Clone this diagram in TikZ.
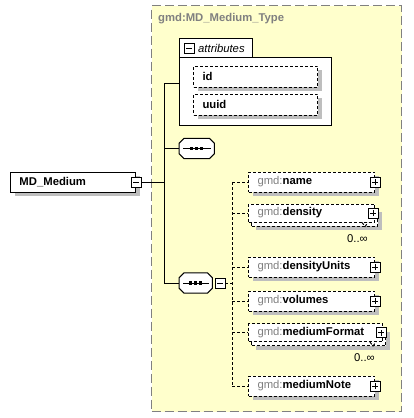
\documentclass[tikz,border=0pt]{standalone}
\usepackage{fontspec}
\setmainfont{Liberation Sans}
\usetikzlibrary{shadows,positioning}

\definecolor{typefill}{RGB}{255,255,204}
\definecolor{typeline}{RGB}{128,128,128}
\definecolor{shadegrey}{RGB}{190,190,190}

\newcommand{\gmdpre}{{\color{typeline}\mdseries gmd:}}

\tikzset{
  txt/.style={font=\fontsize{11.3}{13}\selectfont\bfseries},
  box/.style={rectangle, draw=black, fill=white, line width=1pt, inner sep=0pt, txt, anchor=west},
  dropshade/.style={drop shadow={shadow xshift=4pt, shadow yshift=-4pt, opacity=1, fill=shadegrey}},
  opt/.style={dash pattern=on 3pt off 2pt},
  elem/.style={box, opt, dropshade, minimum height=20pt, text width=108pt, inner xsep=9pt, align=left},
  manyelem/.style={box, opt, minimum height=18pt, text width=108pt, inner xsep=9pt, align=left,
    drop shadow={shadow xshift=7pt, shadow yshift=-8pt, opacity=1, fill=shadegrey},
    copy shadow={shadow xshift=3pt, shadow yshift=-4pt, draw=black, fill=white, opt, line width=1pt}},
  pmbox/.style={rectangle, draw=black, fill=white, solid, line width=0.8pt, minimum size=10pt, inner sep=0pt},
  plusbox/.style={pmbox, path picture={
      \draw[solid] ([xshift=2pt]path picture bounding box.west) -- ([xshift=-2pt]path picture bounding box.east);
      \draw[solid] ([yshift=2pt]path picture bounding box.south) -- ([yshift=-2pt]path picture bounding box.north);}},
  minusbox/.style={pmbox, path picture={
      \draw[solid] ([xshift=2pt]path picture bounding box.west) -- ([xshift=-2pt]path picture bounding box.east);}},
  seqbox/.style={rectangle, inner sep=0pt, minimum height=20pt, anchor=west},
  seqdots/.style={line width=0.8pt},
  mult/.style={font=\fontsize{11.3}{13}\selectfont, inner sep=0pt, anchor=east},
  link/.style={line width=1pt},
}

\begin{document}
\begin{tikzpicture}[x=1pt, y=-1pt]
\useasboundingbox (0,0) rectangle (413,418);

% complex type
\node (mdtype) [rectangle, draw=typeline, fill=typefill, line width=1pt, dash pattern=on 9pt off 4pt, minimum width=250pt, minimum height=406pt, anchor=north west] at (151,5) {};
\node (typetitle) [txt, text=typeline, anchor=west, inner sep=0pt] at (158,19) {gmd:MD\_Medium\_Type};

% root element
\node (medium) [box, dropshade, minimum width=125pt, minimum height=20pt, text width=107pt, inner xsep=9pt, align=left] at (10,182) {MD\_Medium};
\node (mediumminus) [minusbox] at (medium.east) {};

% attributes
\node (attrtab) [rectangle, draw=black, fill=white, line width=1pt, minimum width=73pt, minimum height=19pt, anchor=north west] at (179,38) {};
\node (attrminus) [minusbox] at (189,48) {};
\node (attrlabel) [anchor=west, inner sep=0pt, font=\fontsize{11.3}{13}\selectfont\itshape] at (198,48) {attributes};
\node (attrbody) [rectangle, draw=black, fill=white, line width=1pt, minimum width=152pt, minimum height=68pt, anchor=north west] at (179,57) {};
\node (id) [box, opt, dropshade, minimum height=21pt, text width=106pt, inner xsep=9pt, align=left] at (193,76.5) {id};
\node (uuid) [box, opt, dropshade, minimum height=21pt, text width=106pt, inner xsep=9pt, align=left] at (193,104.5) {uuid};

% sequences
\node (seqone) [seqbox, minimum width=35pt] at (179,148.5) {};
\node (seqtwo) [seqbox, minimum width=33pt] at (179,283) {};
\node (seqminus) [minusbox] at (220,283) {};
\foreach \s in {seqone, seqtwo} {
  \def\octagon{([xshift=5pt]\s.north west) -- ([xshift=-5pt]\s.north east) -- ([yshift=-5pt]\s.north east)
    -- ([yshift=5pt]\s.south east) -- ([xshift=-5pt]\s.south east) -- ([xshift=5pt]\s.south west)
    -- ([yshift=5pt]\s.south west) -- ([yshift=-5pt]\s.north west) -- cycle}
  \fill[shadegrey, shift={(4pt,-4pt)}] \octagon;
  \draw[link, fill=white] \octagon;
  \draw[seqdots] ([xshift=4pt]\s.west) -- ([xshift=-3pt]\s.east);
  \foreach \dx in {-5,0,5}
    \fill ([xshift=\dx pt]\s.center) ++(-1.7pt,-1.7pt) rectangle ++(3.4pt,3.4pt);
}

% child elements
\node (name) [elem] at (248,182) {\gmdpre name};
\node (density) [manyelem] at (248,213) {\gmdpre density};
\node (densityunits) [elem] at (248,267) {\gmdpre densityUnits};
\node (volumes) [elem] at (248,301) {\gmdpre volumes};
\node (mediumformat) [manyelem, text width=116pt] at (248,332.5) {\gmdpre mediumFormat};
\node (mediumnote) [elem] at (248,386) {\gmdpre mediumNote};

\node (nameplus) [plusbox] at (name.east) {};
\node (densityplus) [plusbox] at ([xshift=-2pt]density.east) {};
\node (densityunitsplus) [plusbox] at (densityunits.east) {};
\node (volumesplus) [plusbox] at (volumes.east) {};
\node (mediumformatplus) [plusbox] at ([xshift=-2pt]mediumformat.east) {};
\node (mediumnoteplus) [plusbox] at (mediumnote.east) {};

\draw[link, opt] ([xshift=-13pt]density.south east) -- ++(3,4) -- ++(3,-4);
\draw[link, opt] ([xshift=-13pt]mediumformat.south east) -- ++(3,4) -- ++(3,-4);
\node (densitymult) [mult] at (368,239) {0..∞};
\node (mediumformatmult) [mult] at (375,358) {0..∞};

% connectors
\coordinate (trunktop) at (164,83);
\coordinate (trunkbot) at (164,283);
\coordinate (fork) at (232,283);
\draw[link] (mediumminus.east) -- (mediumminus.east -| trunktop);
\draw[link] (trunktop) -- (trunkbot);
\draw[link] (trunktop) -- (trunktop -| attrbody.west);
\draw[link] (seqone.west -| trunktop) -- (seqone.west);
\draw[link] (trunkbot) -- (seqtwo.west);
\draw[link, opt] (seqminus.east) -- (fork);
\draw[link, opt] (name.west -| fork) -- (mediumnote.west -| fork);
\foreach \e in {name, density, densityunits, volumes, mediumformat, mediumnote}
  \draw[link, opt] (\e.west -| fork) -- (\e.west);

\end{tikzpicture}
\end{document}
